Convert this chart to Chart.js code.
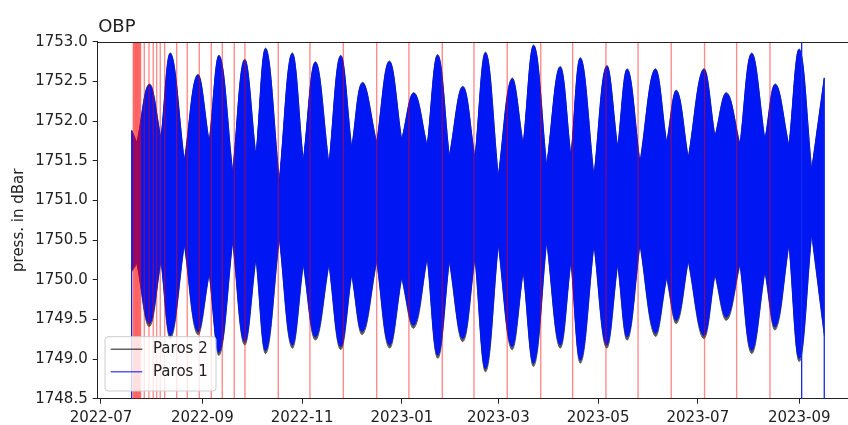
<!DOCTYPE html>
<html>
<head>
<meta charset="utf-8">
<script src="https://cdn.jsdelivr.net/npm/chart.js@4.4.1/dist/chart.umd.min.js"></script>
<style>
  html, body { margin: 0; padding: 0; background: #fff; overflow: hidden; }
  #wrap { width: 848px; height: 425px; }
</style>
</head>
<body>
<div id="wrap"><canvas id="obp" width="848" height="425"></canvas></div>
<script>
// Bottom-pressure record, two Paroscientific sensors, shown as daily tidal envelope
const tickLabels = ['2022-07', '2022-09', '2022-11', '2023-01', '2023-03', '2023-05', '2023-07', '2023-09'];
const seriesNames = ['Paros 2', 'Paros 1'];

// envelope turning points (spring maxima / neap minima), UTC "date T hour"
const envDates = [
  '2022-07-19T18', '2022-07-23T00', '2022-07-30T13', '2022-08-06T17', '2022-08-12T15', '2022-08-20T23',
  '2022-08-29T00', '2022-09-05T05', '2022-09-11T11', '2022-09-19T13', '2022-09-26T18', '2022-10-03T19',
  '2022-10-09T21', '2022-10-18T01', '2022-10-25T19', '2022-11-01T17', '2022-11-09T04', '2022-11-17T10',
  '2022-11-24T11', '2022-12-01T07', '2022-12-07T22', '2022-12-16T14', '2022-12-24T07', '2022-12-31T21',
  '2023-01-08T09', '2023-01-16T12', '2023-01-22T23', '2023-01-30T00', '2023-02-07T06', '2023-02-14T17',
  '2023-02-21T07', '2023-02-28T23', '2023-03-09T03', '2023-03-16T05', '2023-03-22T18', '2023-03-30T13',
  '2023-04-07T16', '2023-04-14T09', '2023-04-20T08', '2023-04-28T11', '2023-05-06T02', '2023-05-12T23',
  '2023-05-18T23', '2023-05-26T14', '2023-06-04T18', '2023-06-11T22', '2023-06-18T00', '2023-06-25T03',
  '2023-07-04T10', '2023-07-11T11', '2023-07-18T14', '2023-07-26T18', '2023-08-02T21', '2023-08-11T00',
  '2023-08-17T11', '2023-08-25T17', '2023-09-01T03', '2023-09-08T14', '2023-09-16T07'
];

const paros1High = [
  1751.88, 1751.72, 1752.46, 1751.78, 1752.85, 1751.49, 1752.58, 1751.73, 1752.82, 1751.35,
  1752.77, 1751.55, 1752.91, 1751.24, 1752.85, 1751.49, 1752.74, 1751.45, 1752.82, 1751.66,
  1752.48, 1751.72, 1752.75, 1751.76, 1752.35, 1751.68, 1752.83, 1751.55, 1752.43, 1751.53,
  1752.86, 1751.30, 1752.53, 1751.70, 1752.95, 1751.43, 1752.68, 1751.55, 1752.79, 1751.30,
  1752.69, 1751.66, 1752.65, 1751.47, 1752.65, 1751.72, 1752.38, 1751.53, 1752.65, 1751.80,
  1752.35, 1751.70, 1752.85, 1751.76, 1752.46, 1751.68, 1752.90, 1751.38, 1752.54
];
const paros1Low = [
  1750.12, 1750.22, 1749.45, 1750.25, 1749.30, 1750.46, 1749.35, 1750.09, 1749.09, 1750.50,
  1749.22, 1750.29, 1749.11, 1750.54, 1749.18, 1750.21, 1749.28, 1750.21, 1749.16, 1750.08,
  1749.35, 1750.25, 1749.18, 1750.04, 1749.43, 1750.29, 1749.05, 1750.25, 1749.26, 1750.29,
  1748.88, 1750.46, 1749.16, 1750.12, 1748.95, 1750.50, 1749.18, 1750.25, 1748.99, 1750.46,
  1749.18, 1750.21, 1749.28, 1750.46, 1749.33, 1750.04, 1749.49, 1750.25, 1749.30, 1750.08,
  1749.53, 1750.21, 1749.11, 1750.12, 1749.41, 1750.46, 1749.01, 1750.59, 1749.33
];
const paros2High = [
  1751.89, 1751.73, 1752.47, 1751.79, 1752.86, 1751.50, 1752.59, 1751.74, 1752.83, 1751.36,
  1752.78, 1751.56, 1752.92, 1751.25, 1752.86, 1751.50, 1752.75, 1751.46, 1752.83, 1751.67,
  1752.49, 1751.73, 1752.76, 1751.77, 1752.36, 1751.69, 1752.84, 1751.56, 1752.44, 1751.54,
  1752.87, 1751.31, 1752.54, 1751.71, 1752.96, 1751.44, 1752.69, 1751.56, 1752.80, 1751.31,
  1752.70, 1751.67, 1752.66, 1751.48, 1752.66, 1751.73, 1752.39, 1751.54, 1752.66, 1751.81,
  1752.36, 1751.71, 1752.86, 1751.77, 1752.47, 1751.69, 1752.91, 1751.39, 1752.55
];
const paros2Low = [
  1750.10, 1750.20, 1749.41, 1750.23, 1749.26, 1750.44, 1749.31, 1750.07, 1749.05, 1750.48,
  1749.18, 1750.27, 1749.07, 1750.52, 1749.14, 1750.19, 1749.24, 1750.19, 1749.12, 1750.06,
  1749.31, 1750.23, 1749.14, 1750.02, 1749.39, 1750.27, 1749.01, 1750.23, 1749.22, 1750.27,
  1748.84, 1750.44, 1749.12, 1750.10, 1748.91, 1750.48, 1749.14, 1750.23, 1748.95, 1750.44,
  1749.14, 1750.19, 1749.24, 1750.44, 1749.29, 1750.02, 1749.45, 1750.23, 1749.26, 1750.06,
  1749.49, 1750.19, 1749.07, 1750.10, 1749.37, 1750.44, 1748.97, 1750.57, 1749.29
];

// single-sample outliers of Paros 1 (start, mid-record glitch, end)
const spikeDates = ['2022-07-19T18', '2023-09-02T11', '2023-09-16T07'];
const spikeTop = [1751.88, 1754.00, 1752.54];
const spikeBottom = [1747.50, 1747.50, 1747.50];

// logged events, drawn as vertical markers
const eventDates = [
  '2022-07-20T18', '2022-07-21T06', '2022-07-21T18', '2022-07-22T06', '2022-07-22T18',
  '2022-07-23T06', '2022-07-23T18', '2022-07-24T06', '2022-07-24T18', '2022-07-25T06',
  '2022-07-27T12', '2022-07-30T08', '2022-08-01T23', '2022-08-04T01', '2022-08-06T06',
  '2022-08-08T23', '2022-08-16T07', '2022-08-22T18', '2022-08-30T03', '2022-09-06T11',
  '2022-09-13T04', '2022-09-20T12', '2022-09-27T01', '2022-10-17T10', '2022-11-05T19',
  '2022-11-26T05', '2022-12-16T14', '2023-01-05T07', '2023-01-25T17', '2023-02-14T02',
  '2023-03-06T10', '2023-03-26T22', '2023-04-15T10', '2023-05-05T19', '2023-05-25T10',
  '2023-06-14T17', '2023-07-05T02', '2023-07-24T17', '2023-08-14T02'
];

const FONT = 'DejaVu Sans';
const T0 = Date.UTC(2022, 6, 1);
function toDay(s) {
  const parts = s.split('T');
  const hour = parts[1] ? parts[1] : '00';
  return (Date.parse(parts[0] + 'T' + hour + ':00:00Z') - T0) / 86400000;
}
const X_MIN = toDay('2022-06-29');
const X_MAX = 456.8;

// Neap turning points (odd indices) are cusps of the envelope: each one is
// entered twice so the spline keeps a corner there while spring lobes stay round.
function envPoints(vals) {
  const out = [];
  envDates.forEach((d, i) => {
    const p = { x: toDay(d), y: vals[i] };
    out.push(p);
    if (i % 2 === 1) out.push({ x: p.x, y: p.y });
  });
  return out;
}
const spikePts = [];
spikeDates.forEach((d, i) => {
  const x = toDay(d);
  spikePts.push({ x, y: spikeTop[i] }, { x, y: spikeBottom[i] }, { x, y: null });
});

const GRAY = 'rgb(88,88,88)';
const BLUE = 'rgb(0,22,242)';
const TENSION = 0.4;

const datasets = [
  { label: seriesNames[0], data: envPoints(paros2High), borderColor: GRAY, borderWidth: 1, fill: false, tension: TENSION, order: 4 },
  { label: seriesNames[0] + ' low', data: envPoints(paros2Low), borderColor: GRAY, borderWidth: 1, backgroundColor: GRAY, fill: '-1', tension: TENSION, order: 3 },
  { label: seriesNames[1], data: envPoints(paros1High), borderColor: BLUE, borderWidth: 1, fill: false, tension: TENSION, order: 2 },
  { label: seriesNames[1] + ' low', data: envPoints(paros1Low), borderColor: BLUE, borderWidth: 1, backgroundColor: BLUE, fill: '-1', tension: TENSION, order: 1 },
  { label: seriesNames[1] + ' spikes', data: spikePts, borderColor: 'rgb(20,40,235)', borderWidth: 1.3, fill: false, spanGaps: false, tension: 0, order: 0 }
];

const legendItems = [
  { text: seriesNames[0], color: 'rgba(0,0,0,0.62)' },
  { text: seriesNames[1], color: 'rgba(0,0,255,0.65)' }
];

const decor = {
  id: 'decor',
  afterDatasetsDraw(chart) {
    const { ctx, chartArea: a, scales: { x } } = chart;
    ctx.save();
    ctx.beginPath();
    ctx.rect(a.left, a.top, a.right - a.left, a.bottom - a.top);
    ctx.clip();
    ctx.strokeStyle = 'rgba(255,0,0,0.45)';
    ctx.lineWidth = 1.4;
    eventDates.forEach(d => {
      const px = x.getPixelForValue(toDay(d));
      ctx.beginPath();
      ctx.moveTo(px, a.top);
      ctx.lineTo(px, a.bottom);
      ctx.stroke();
    });
    ctx.restore();
  },
  afterDraw(chart) {
    const { ctx, chartArea: a } = chart;
    ctx.save();
    // top spine
    ctx.strokeStyle = '#222';
    ctx.lineWidth = 1;
    ctx.beginPath();
    ctx.moveTo(a.left, Math.round(a.top) + 0.5);
    ctx.lineTo(a.right, Math.round(a.top) + 0.5);
    ctx.stroke();
    // title
    ctx.fillStyle = '#222';
    ctx.font = '18px "' + FONT + '"';
    ctx.textAlign = 'left';
    ctx.textBaseline = 'alphabetic';
    ctx.fillText('OBP', a.left + 0.5, 32);
    // legend, lower left
    const bx = 105, by = 336.7, bw = 111, bh = 54.3, r = 3;
    ctx.beginPath();
    ctx.moveTo(bx + r, by);
    ctx.arcTo(bx + bw, by, bx + bw, by + bh, r);
    ctx.arcTo(bx + bw, by + bh, bx, by + bh, r);
    ctx.arcTo(bx, by + bh, bx, by, r);
    ctx.arcTo(bx, by, bx + bw, by, r);
    ctx.closePath();
    ctx.fillStyle = 'rgba(255,255,255,0.8)';
    ctx.fill();
    ctx.strokeStyle = '#cccccc';
    ctx.stroke();
    ctx.font = '15px "' + FONT + '"';
    ctx.textBaseline = 'middle';
    legendItems.forEach((it, i) => {
      const ly = 349.3 + i * 22.4;
      ctx.strokeStyle = it.color;
      ctx.lineWidth = 1.5;
      ctx.beginPath();
      ctx.moveTo(110.7, ly);
      ctx.lineTo(142.3, ly);
      ctx.stroke();
      ctx.fillStyle = '#222';
      ctx.fillText(it.text, 153, ly);
    });
    ctx.restore();
  }
};

const tickFont = { family: FONT, size: 15 };

new Chart(document.getElementById('obp'), {
  type: 'line',
  data: { datasets },
  options: {
    responsive: false,
    animation: false,
    devicePixelRatio: 1,
    layout: { padding: { top: 41.9, left: 0, right: 0, bottom: 0 } },
    elements: { point: { radius: 0 } },
    plugins: {
      legend: { display: false },
      tooltip: { enabled: false },
      filler: { propagate: false }
    },
    scales: {
      x: {
        type: 'linear',
        min: X_MIN,
        max: X_MAX,
        afterBuildTicks(s) { s.ticks = tickLabels.map(l => ({ value: toDay(l + '-01') })); },
        afterFit(s) { s.height = 26.3; },
        ticks: {
          autoSkip: false, maxRotation: 0, font: tickFont, color: '#222', padding: 5,
          callback: (v, i) => tickLabels[i]
        },
        grid: { drawOnChartArea: false, drawTicks: true, tickLength: 5, tickColor: '#222' },
        border: { display: true, color: '#222', width: 1 }
      },
      y: {
        min: 1748.5,
        max: 1753.0,
        afterFit(s) { s.width = 97.7; },
        ticks: { stepSize: 0.5, font: tickFont, color: '#222', padding: 5, callback: v => Number(v).toFixed(1) },
        grid: { drawOnChartArea: false, drawTicks: true, tickLength: 5, tickColor: '#222' },
        border: { display: true, color: '#222', width: 1 },
        title: { display: true, text: 'press. in dBar', font: { family: FONT, size: 15 }, color: '#222', padding: { top: 10, bottom: 0 } }
      }
    }
  },
  plugins: [decor]
});
</script>
</body>
</html>
